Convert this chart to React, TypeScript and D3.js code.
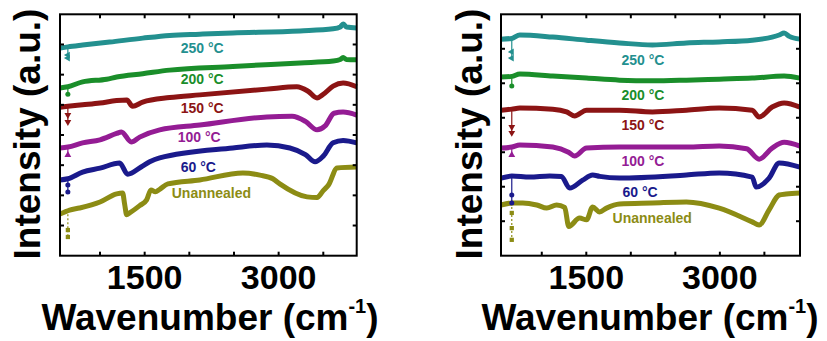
import { useEffect, useRef } from "react";
import * as d3 from "d3";

// ---- left panel: [wavenumber, intensity] ----
const leftUnannealed = [
  [552, 1.38], [660, 1.51], [770, 1.58], [1000, 1.78], [1186, 2.05], [1253, 2.08],
  [1276, 1.7], [1298, 1.36], [1332, 1.42], [1444, 1.66], [1522, 1.85], [1570, 2.18],
  [1620, 2.12], [1668, 2.2], [1760, 2.38], [2117, 2.51], [2600, 2.74], [2790, 2.67],
  [2935, 2.55], [3013, 2.38], [3318, 1.95], [3430, 1.93], [3497, 2.15], [3560, 2.35],
  [3655, 2.91], [3874, 2.94],
];
const left60 = [
  [552, 2.51], [640, 2.55], [805, 2.77], [1000, 2.9], [1220, 3.07], [1310, 2.7],
  [1460, 2.94], [1556, 3.11], [1668, 3.24], [2487, 3.57], [2868, 3.67], [3126, 3.57],
  [3300, 3.35], [3408, 3.11], [3500, 3.3], [3610, 3.74], [3722, 3.82], [3874, 3.74],
];
const left100 = [
  [552, 3.57], [640, 3.6], [805, 3.74], [1000, 3.84], [1186, 4.05], [1240, 4.1],
  [1350, 3.77], [1444, 3.93], [1668, 4.17], [2117, 4.33], [2868, 4.6], [3150, 4.62],
  [3300, 4.45], [3430, 4.17], [3520, 4.3], [3620, 4.72], [3722, 4.76], [3874, 4.66],
];
const left150 = [
  [552, 4.92], [640, 4.95], [805, 5.0], [1000, 5.06], [1186, 5.14], [1300, 5.16],
  [1365, 4.95], [1478, 5.09], [1780, 5.24], [2117, 5.33], [2868, 5.52], [3204, 5.6],
  [3330, 5.45], [3430, 5.23], [3500, 5.35], [3610, 5.62], [3722, 5.72], [3874, 5.6],
];
const left200 = [
  [552, 5.56], [640, 5.6], [805, 5.76], [1074, 5.85], [1186, 5.92], [1478, 6.03],
  [1780, 6.15], [2487, 6.27], [3240, 6.39], [3610, 6.45], [3690, 6.5], [3722, 6.57],
  [3760, 6.5], [3874, 6.49],
];
const left250 = [
  [552, 6.88], [640, 6.92], [805, 6.98], [1108, 7.08], [1478, 7.21], [1780, 7.3],
  [2117, 7.34], [2487, 7.38], [3240, 7.45], [3610, 7.52], [3690, 7.58], [3722, 7.68],
  [3760, 7.58], [3874, 7.55],
];
// symbols hanging below each trace near 640 cm-1
const leftMarks = {
  unannealed: [0.85, 0.62],
  t60: [2.34, 2.11],
  t100: [3.34],
  t150: [4.66, 4.43],
  t200: [5.35],
  t250: [6.65, 6.55],
};

// ---- right panel ----
const rightUnannealed = [
  [542, 1.47], [675, 1.53], [787, 1.53], [944, 1.47], [1056, 1.38], [1167, 1.47],
  [1257, 1.4], [1303, 0.85], [1425, 1.09], [1503, 1.04], [1571, 1.41], [1649, 1.27],
  [1727, 1.38], [1873, 1.5], [2243, 1.53], [2624, 1.56], [2993, 1.38], [3363, 0.98],
  [3441, 0.89], [3553, 1.33], [3666, 1.76], [3744, 1.79], [3900, 1.82],
];
const right60 = [
  [542, 2.25], [663, 2.31], [865, 2.28], [1089, 2.31], [1220, 2.3], [1313, 1.96],
  [1459, 2.19], [1571, 2.34], [1649, 2.3], [1873, 2.25], [2624, 2.34], [2993, 2.4],
  [3363, 2.28], [3408, 1.99], [3553, 2.25], [3666, 2.69], [3900, 2.57],
];
const right100 = [
  [542, 3.12], [663, 3.15], [753, 3.21], [1123, 3.15], [1300, 3.0], [1369, 2.89],
  [1503, 3.12], [1873, 3.15], [2624, 3.15], [2993, 3.18], [3300, 3.1], [3441, 2.8],
  [3587, 3.12], [3722, 3.29], [3900, 3.18],
];
const right150 = [
  [542, 4.22], [663, 4.25], [753, 4.28], [1123, 4.25], [1279, 4.17], [1369, 4.05],
  [1503, 4.22], [1873, 4.22], [2243, 4.17], [2624, 4.22], [2993, 4.28], [3363, 4.22],
  [3441, 4.02], [3587, 4.31], [3722, 4.43], [3900, 4.31],
];
const right200 = [
  [542, 5.18], [663, 5.2], [753, 5.27], [1123, 5.21], [1503, 5.15], [1873, 5.09],
  [2243, 5.07], [2624, 5.09], [2993, 5.12], [3363, 5.15], [3722, 5.21], [3900, 5.15],
];
const right250 = [
  [542, 6.28], [663, 6.3], [753, 6.4], [1123, 6.34], [1503, 6.25], [1873, 6.17],
  [2243, 6.11], [2624, 6.17], [2993, 6.2], [3363, 6.25], [3587, 6.34], [3666, 6.4],
  [3722, 6.46], [3780, 6.36], [3900, 6.28],
];
const rightMarks = {
  unannealed: [1.24, 0.8, 0.46],
  t60: [1.76, 1.53],
  t100: [2.92],
  t150: [3.73, 3.56],
  t200: [4.92],
  t250: [5.91, 5.73],
};

const seriesNames = ["Unannealed", "60 °C", "100 °C", "150 °C", "200 °C", "250 °C"];
const seriesColors = ["#8c8c14", "#1a1a8c", "#941c94", "#8c1414", "#1a8e2a", "#23908f"];
const xTicks = [1000, 1500, 2000, 2500, 3000, 3500];
const xTickLabels = [1500, 3000];
const leftYTicks = [1, 2, 3, 4, 5, 6, 7];
const rightYTicks = [1, 2, 3, 4, 5, 6];

const FONT = "'Liberation Sans', Arial, Helvetica, sans-serif";

const drawPanel = (svg, cfg) => {
  const x = d3.scaleLinear().domain(cfg.xDomain).range([cfg.left, cfg.right]);
  const y = d3.scaleLinear().domain(cfg.yDomain).range([cfg.bottom, cfg.top]);
  const g = svg.append("g");

  const line = d3
    .line()
    .x((d) => x(d[0]))
    .y((d) => y(d[1]))
    .curve(d3.curveMonotoneX);

  const symbols = [
    d3.symbol().type(d3.symbolSquare).size(18),
    d3.symbol().type(d3.symbolCircle).size(20),
    d3.symbol().type(d3.symbolTriangle).size(20),
    d3.symbol().type(d3.symbolTriangle).size(20),
    d3.symbol().type(d3.symbolCircle).size(20),
    d3.symbol().type(d3.symbolTriangle).size(20),
  ];
  const rotations = [0, 0, 0, 180, 0, -90];

  cfg.series.forEach((s, i) => {
    const color = seriesColors[i];
    // drop line + symbols at the spike
    const yStart = s.data.find((d) => d[0] >= cfg.markX) || s.data[0];
    const lowest = d3.min(s.marks);
    g.append("line")
      .attr("x1", x(cfg.markX))
      .attr("x2", x(cfg.markX))
      .attr("y1", y(yStart[1]))
      .attr("y2", y(lowest))
      .attr("stroke", color)
      .attr("stroke-width", 1.2)
      .attr("stroke-dasharray", i === 0 ? "2,2" : null);
    s.marks.forEach((m) => {
      g.append("path")
        .attr("d", symbols[i]())
        .attr("fill", color)
        .attr("transform", `translate(${x(cfg.markX)},${y(m)}) rotate(${rotations[i]})`);
    });

    g.append("path")
      .datum(s.data)
      .attr("d", line)
      .attr("fill", "none")
      .attr("stroke", color)
      .attr("stroke-width", 5)
      .attr("stroke-linejoin", "round");

    g.append("text")
      .attr("x", x(s.labelAt[0]))
      .attr("y", y(s.labelAt[1]))
      .attr("fill", color)
      .attr("font-family", FONT)
      .attr("font-weight", "bold")
      .attr("font-size", 14)
      .text(seriesNames[i]);
  });

  // frame
  g.append("rect")
    .attr("x", cfg.left)
    .attr("y", cfg.top)
    .attr("width", cfg.right - cfg.left)
    .attr("height", cfg.bottom - cfg.top)
    .attr("fill", "none")
    .attr("stroke", "#000")
    .attr("stroke-width", 2);

  const tl = 4;
  xTicks.forEach((t) => {
    g.append("line")
      .attr("x1", x(t)).attr("x2", x(t))
      .attr("y1", cfg.bottom).attr("y2", cfg.bottom - tl)
      .attr("stroke", "#000").attr("stroke-width", 2);
    g.append("line")
      .attr("x1", x(t)).attr("x2", x(t))
      .attr("y1", cfg.top).attr("y2", cfg.top + tl)
      .attr("stroke", "#000").attr("stroke-width", 2);
  });
  cfg.yTicks.forEach((t) => {
    g.append("line")
      .attr("x1", cfg.left).attr("x2", cfg.left + tl)
      .attr("y1", y(t)).attr("y2", y(t))
      .attr("stroke", "#000").attr("stroke-width", 2);
    g.append("line")
      .attr("x1", cfg.right).attr("x2", cfg.right - tl)
      .attr("y1", y(t)).attr("y2", y(t))
      .attr("stroke", "#000").attr("stroke-width", 2);
  });

  xTickLabels.forEach((t) => {
    g.append("text")
      .attr("x", x(t))
      .attr("y", 289)
      .attr("text-anchor", "middle")
      .attr("font-family", FONT)
      .attr("font-weight", "bold")
      .attr("font-size", 34)
      .text(t);
  });

  const xl = g
    .append("text")
    .attr("x", cfg.xLabelX)
    .attr("y", 330)
    .attr("text-anchor", "middle")
    .attr("font-family", FONT)
    .attr("font-weight", "bold")
    .attr("font-size", 37);
  xl.append("tspan").text("Wavenumber (cm");
  xl.append("tspan").attr("font-size", 20).attr("dy", -17).text("-1");
  xl.append("tspan").attr("dy", 17).text(")");

  g.append("text")
    .attr("transform", `translate(${cfg.yLabelX},${cfg.yLabelY}) rotate(-90)`)
    .attr("text-anchor", "middle")
    .attr("font-family", FONT)
    .attr("font-weight", "bold")
    .attr("font-size", 37)
    .text("Intensity (a.u.)");
};

const App = () => {
  const ref = useRef(null);

  useEffect(() => {
    const svg = d3.select(ref.current);
    svg.selectAll("*").remove();

    drawPanel(svg, {
      left: 60, right: 356.7, top: 14.3, bottom: 255.7,
      xDomain: [552, 3874], yDomain: [0, 8], yTicks: leftYTicks,
      markX: 640, xLabelX: 210, yLabelX: 40, yLabelY: 134,
      series: [
        { data: leftUnannealed, marks: leftMarks.unannealed, labelAt: [1803, 1.91] },
        { data: left60, marks: leftMarks.t60, labelAt: [1904, 2.77] },
        { data: left100, marks: leftMarks.t100, labelAt: [1870, 3.77] },
        { data: left150, marks: leftMarks.t150, labelAt: [1904, 4.73] },
        { data: left200, marks: leftMarks.t200, labelAt: [1904, 5.69] },
        { data: left250, marks: leftMarks.t250, labelAt: [1904, 6.72] },
      ],
    });

    drawPanel(svg, {
      left: 501, right: 800, top: 14.3, bottom: 255.7,
      xDomain: [542, 3900], yDomain: [0, 7], yTicks: rightYTicks,
      markX: 663, xLabelX: 650, yLabelX: 482, yLabelY: 134,
      series: [
        { data: rightUnannealed, marks: rightMarks.unannealed, labelAt: [1795, 0.95] },
        { data: right60, marks: rightMarks.t60, labelAt: [1907, 1.7] },
        { data: right100, marks: rightMarks.t100, labelAt: [1895, 2.6] },
        { data: right150, marks: rightMarks.t150, labelAt: [1895, 3.64] },
        { data: right200, marks: rightMarks.t200, labelAt: [1895, 4.51] },
        { data: right250, marks: rightMarks.t250, labelAt: [1895, 5.53] },
      ],
    });
  }, []);

  return (
    <svg
      ref={ref}
      width={827}
      height={341}
      style={{ position: "absolute", left: 0, top: 0, background: "#fff" }}
    ></svg>
  );
};

export default App;
